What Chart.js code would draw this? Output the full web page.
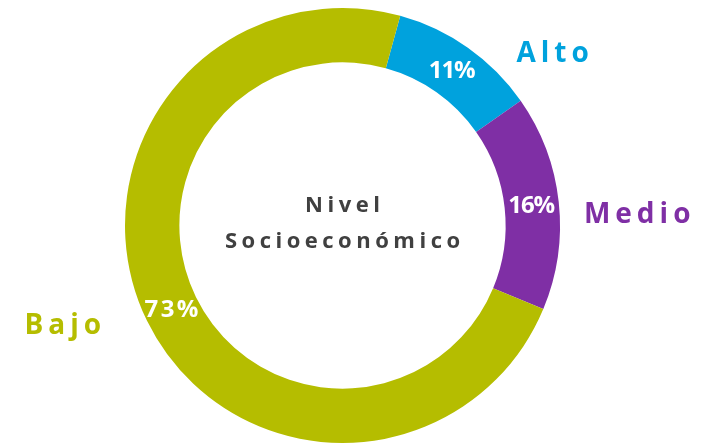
<!DOCTYPE html>
<html><head><meta charset="utf-8">
<script src="https://cdn.jsdelivr.net/npm/chart.js@4"></script>
<style>html,body{margin:0;padding:0;background:#fff;}canvas{display:block;}</style>
</head><body>
<canvas id="c" width="707" height="443"></canvas>
<script>
const categories = ["Alto", "Medio", "Bajo"];
const values = [11, 16, 73];
const valueLabels = ["11%", "16%", "73%"];
const centerTitle = ["Nivel", "Socioeconómico"];
const colors = ["#00A2DD", "#7F2FA5", "#B5BD00"];

// label anchors relative to center, in units of outer radius
const outerLabelPos = [
  {fx: 0.80, fy: -0.80, align: 'left'},
  {fx: 1.11, fy: -0.06, align: 'left'},
  {fx: -1.11, fy: 0.45, align: 'right'}
];

const labelPlugin = {
  id: 'labels',
  afterDatasetsDraw(chart) {
    const ctx = chart.ctx;
    const meta = chart.getDatasetMeta(0);
    const arc0 = meta.data[0];
    const cx = arc0.x, cy = arc0.y, R = arc0.outerRadius;
    ctx.save();
    ctx.textBaseline = 'middle';
    meta.data.forEach((arc, i) => {
      const mid = (arc.startAngle + arc.endAngle) / 2;
      const r = (arc.innerRadius + arc.outerRadius) / 2;
      ctx.fillStyle = '#ffffff';
      ctx.font = 'bold 24px "Open Sans", Lato, sans-serif';
      const ls = i === 2 ? 2.5 : -1;
      ctx.letterSpacing = ls + 'px';
      ctx.textAlign = 'center';
      ctx.fillText(valueLabels[i], cx + Math.cos(mid) * r + ls / 2, cy + Math.sin(mid) * r + 1);
      const p = outerLabelPos[i];
      ctx.fillStyle = colors[i];
      ctx.font = 'bold 28px "Open Sans", Lato, sans-serif';
      ctx.letterSpacing = '5px';
      ctx.textAlign = p.align;
      let x = cx + p.fx * R;
      if (p.align === 'right') x += 5;
      ctx.fillText(categories[i], x, cy + p.fy * R + 3);
    });
    ctx.fillStyle = '#404040';
    ctx.font = 'bold 22px "Open Sans", Lato, sans-serif';
    ctx.letterSpacing = '4.5px';
    ctx.textAlign = 'center';
    ctx.fillText(centerTitle[0], cx + 2.25, cy - 20);
    ctx.fillText(centerTitle[1], cx + 2.25, cy + 16);
    ctx.restore();
  }
};

new Chart(document.getElementById('c'), {
  type: 'doughnut',
  data: {
    labels: categories,
    datasets: [{
      data: values,
      backgroundColor: colors,
      borderWidth: 0,
      hoverOffset: 0
    }]
  },
  options: {
    responsive: false,
    animation: false,
    rotation: 15.4,
    cutout: '75%',
    layout: {padding: {top: 8, bottom: 0, left: 125, right: 147}},
    plugins: {legend: {display: false}, tooltip: {enabled: false}},
    events: []
  },
  plugins: [labelPlugin]
});
</script>
</body></html>
